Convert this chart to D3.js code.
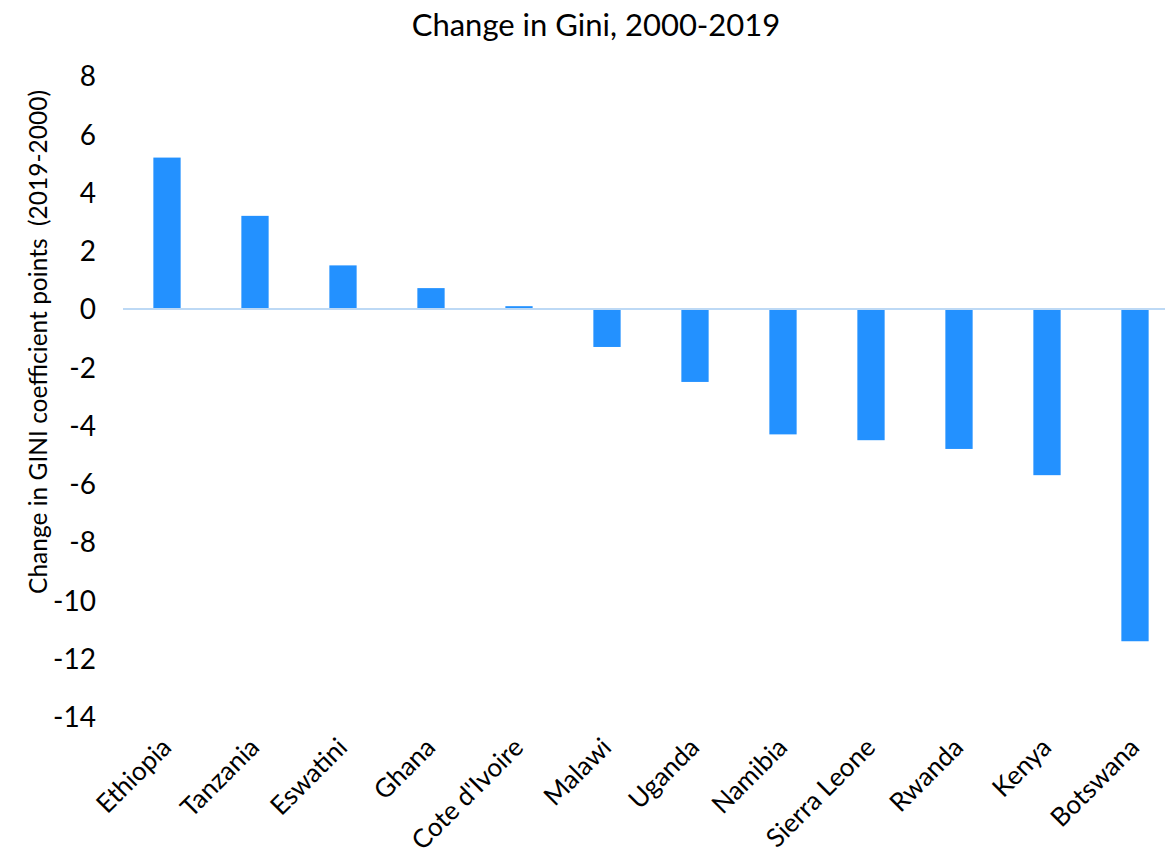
<!DOCTYPE html>
<html>
<head>
<meta charset="utf-8">
<script src="https://cdn.jsdelivr.net/npm/d3@7"></script>
<style>
  body { margin: 0; background: #fff; }
  text { font-family: Lato, "Open Sans", sans-serif; fill: #000; }
</style>
</head>
<body>
<div id="chart"></div>
<script>
// data
var countries = ["Ethiopia", "Tanzania", "Eswatini", "Ghana", "Cote d'Ivoire", "Malawi",
                 "Uganda", "Namibia", "Sierra Leone", "Rwanda", "Kenya", "Botswana"];
var giniChange = [5.2, 3.2, 1.5, 0.72, 0.1, -1.3, -2.5, -4.3, -4.5, -4.8, -5.7, -11.4];
var yTicks = [8, 6, 4, 2, 0, -2, -4, -6, -8, -10, -12, -14];

var width = 1165, height = 859;
var plot = {left: 123, right: 1179, top: 76, bottom: 717};

var svg = d3.select("#chart")
  .append("svg")
    .attr("width", width)
    .attr("height", height);

// x scale: one band per country
var x = d3.scaleBand()
  .domain(countries)
  .range([plot.left, plot.right])
  .paddingInner(0.69)
  .paddingOuter(0.345);

var y = d3.scaleLinear()
  .domain([-14, 8])
  .range([plot.bottom, plot.top]);

// title
svg.append("text")
  .attr("x", 596)
  .attr("y", 36)
  .attr("text-anchor", "middle")
  .style("font-size", "31px")
  .text("Change in Gini, 2000-2019");

// y axis title (keeps the double space)
svg.append("text")
  .attr("transform", "translate(47,342) rotate(-90)")
  .attr("text-anchor", "middle")
  .style("font-size", "24.5px")
  .style("white-space", "pre")
  .text("Change in GINI coefficient points  (2019-2000)");

// y axis (labels only), plain hyphen for negatives
var yAxis = svg.append("g")
  .attr("transform", "translate(" + (plot.left - 27) + ",0)")
  .call(d3.axisLeft(y).tickValues(yTicks).tickSize(0).tickPadding(0)
    .tickFormat(function(d) { return String(d); }));
yAxis.select(".domain").remove();
yAxis.selectAll("text")
  .style("font-size", "28px")
  .attr("dy", "0.35em");

// bars
svg.append("g")
  .selectAll("rect")
  .data(giniChange)
  .join("rect")
    .attr("x", function(d, i) { return x(countries[i]); })
    .attr("width", x.bandwidth())
    .attr("y", function(d) { return y(Math.max(0, d)); })
    .attr("height", function(d) { return Math.abs(y(d) - y(0)); })
    .attr("fill", "#2391ff");

// zero line
svg.append("line")
  .attr("x1", plot.left)
  .attr("x2", plot.right)
  .attr("y1", y(0))
  .attr("y2", y(0))
  .attr("stroke", "#bdd9f5")
  .attr("stroke-width", 2);

// x labels rotated
svg.append("g")
  .selectAll("text")
  .data(countries)
  .join("text")
    .attr("transform", function(d) {
      return "translate(" + (x(d) + x.bandwidth() / 2 + 6) + "," + (plot.bottom + 32) + ") rotate(-45)";
    })
    .attr("text-anchor", "end")
    .style("font-size", "26px")
    .text(function(d) { return d; });
</script>
</body>
</html>
